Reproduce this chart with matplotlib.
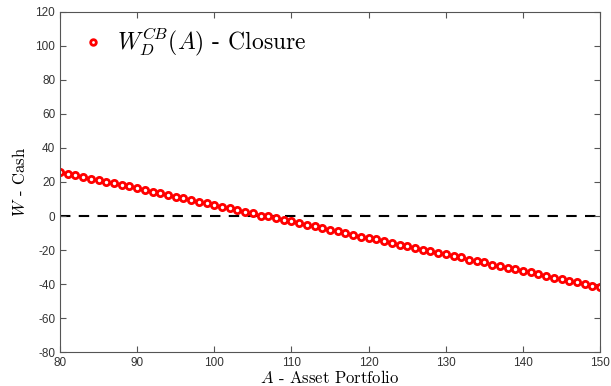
import matplotlib
matplotlib.use("Agg")
import matplotlib.pyplot as plt

# Asset portfolio values and closure cash values
asset = list(range(80, 151))
cash = [26.0, 24.8, 24.1, 23.0, 22.0, 21.3, 20.1, 19.2, 18.3, 17.4,
        16.4, 15.2, 14.4, 13.5, 12.6, 11.3, 10.6, 9.6, 8.4, 7.6,
        6.6, 5.4, 4.6, 3.7, 2.5, 1.6, 0.2, -0.2, -1.2, -2.5,
        -3.1, -4.2, -5.4, -6.1, -7.2, -8.2, -9.0, -10.2, -11.0, -12.3,
        -12.9, -13.6, -14.9, -15.7, -17.0, -17.6, -18.7, -19.8, -20.5, -21.6,
        -22.6, -23.7, -24.3, -25.6, -26.5, -27.2, -28.6, -29.3, -30.3, -31.3,
        -32.1, -33.2, -34.2, -35.0, -36.2, -37.1, -38.0, -39.0, -40.1, -40.9,
        -42.0]
x_ticks = [80, 90, 100, 110, 120, 130, 140, 150]
y_ticks = [-80, -60, -40, -20, 0, 20, 40, 60, 80, 100, 120]

plt.rcParams['mathtext.fontset'] = 'cm'
plt.rcParams['font.family'] = ['Liberation Sans', 'DejaVu Sans']
plt.rcParams['axes.unicode_minus'] = False

fig = plt.figure(figsize=(6.11, 3.86), dpi=100)
ax = fig.add_axes([0.0982, 0.088, 0.884, 0.881])

ax.axhline(0, color='black', linestyle=(0, (5, 4)), linewidth=1.5, zorder=1)
ax.plot(asset, cash, linestyle='none', marker='o', markersize=4.5,
        markerfacecolor='white', markeredgecolor='red', markeredgewidth=2.0,
        label=r'$W_D^{CB}(A)$ - Closure', zorder=2)

ax.set_xlim(80, 150)
ax.set_ylim(-80, 120)
ax.set_xticks(x_ticks)
ax.set_yticks(y_ticks)

for side in ax.spines.values():
    side.set_color('#555555')
    side.set_linewidth(0.8)
ax.tick_params(direction='in', length=4, width=0.8, colors='#555555',
               labelcolor='#333333', labelsize=8.5, top=True, right=True)

ax.set_xlabel(r'$A$ - Asset Portfolio', fontsize=12, labelpad=0, family='cmr10')
ax.set_ylabel(r'$W$ - Cash', fontsize=12, labelpad=5, family='cmr10')

ax.legend(loc='upper left', frameon=False, handletextpad=0.2,
          borderaxespad=0.2, handlelength=1.6, markerscale=0.9,
          prop={'family': 'cmr10', 'size': 17})

fig.savefig('out.png', dpi=100)
